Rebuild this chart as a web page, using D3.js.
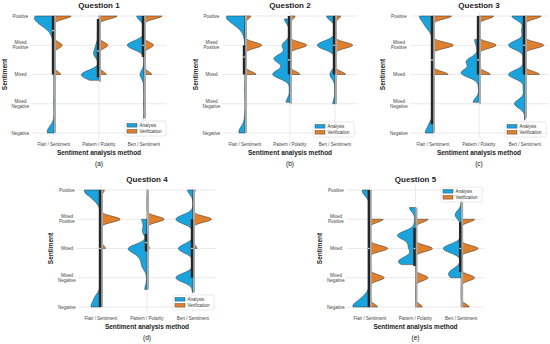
<!DOCTYPE html>
<html>
<head>
<meta charset="utf-8">
<script src="https://cdn.jsdelivr.net/npm/d3@7"></script>
<style>
  body { margin: 0; background: #fff; }
  text { font-family: "Liberation Sans", Arial, sans-serif; }
</style>
</head>
<body>
<script>
// Width and height
var w = 550;
var h = 344;

var questions = ["Question 1", "Question 2", "Question 3", "Question 4", "Question 5"];
var tags = ["(a)", "(b)", "(c)", "(d)", "(e)"];
var methods = ["Flair / Sentiment", "Pattern / Polarity", "Bert / Sentiment"];
var levels = [["Negative"], ["Mixed", "Negative"], ["Mixed"], ["Mixed", "Positive"], ["Positive"]];
var groups = ["Analysis", "Verification"];

// density peaks: [sentiment value, peak half-width (10 = half a band)]
var analysisQ1 = [
  [[4, 7.2], [3.75, 5], [3.5, 1.5], [3.25, 0.5], [3, 0.15], [2, 0.1], [1, 0.1], [0.2, 1.2], [0, 2.5]],
  [[3.85, 0.6], [3.4, 0.7], [3, 1.2], [2.7, 2.3], [2, 7.5], [1.8, 1.2]],
  [[4, 3.3], [3, 7.6], [2, 1.8], [1.5, 0.2], [1, 0.2], [0.5, 0.15]]
];
var verificationQ1 = [
  [[4, 7.7], [3, 3.7], [2, 3.0]],
  [[4, 8.2], [3, 4], [2, 3.3]],
  [[4, 8.1], [3, 4.3], [2, 3.5]]
];
var analysisQ2 = [
  [[4, 7.2], [3.75, 4], [3.5, 1], [3.25, 0.3], [2.5, 0.1], [1.5, 0.1], [0.5, 0.2], [0.2, 1], [0, 2.3]],
  [[3.9, 2.5], [3.6, 0.3], [3, 3.5], [2.55, 7], [2.27, 1.5], [2, 7.5], [1.5, 0.3], [1.05, 1.8]],
  [[4, 3.8], [3, 8], [2, 2.3], [1.5, 0.2], [1, 1]]
];
var verificationQ2 = [
  [[4, 2.6], [3, 7.6], [2, 5]],
  [[4, 2.3], [3, 7.6], [2, 4.5]],
  [[4, 2.6], [3, 8], [2, 4.8]]
];
var analysisQ3 = [
  [[4, 5.5], [3.7, 3], [3.45, 0.8], [3, 0.05], [2, 0.05], [1, 0.1], [0.3, 1.5], [0, 3.2]],
  [[3.2, 1.8], [2.9, 0.8], [2.45, 5.5], [2.05, 7.8], [1.6, 0.3], [1.05, 2.6]],
  [[4, 5.8], [3.5, 1.5], [3, 7.3], [2.5, 1], [2, 7.3], [1.5, 0.8], [1, 4.7], [0.45, 0.2]]
];
var verificationQ3 = [
  [[4, 8.2], [3, 9], [2, 6.7]],
  [[4, 6.5], [3, 7.6], [2, 5]],
  [[4, 7.1], [3, 8.3], [2, 6.4]]
];
var analysisQ4 = [
  [[4, 6.5], [3.75, 3], [3.5, 0.8], [3, 0.05], [2, 0.05], [1, 0.1], [0.6, 0.5], [0.3, 2.5], [0, 4]],
  [[3, 2.3], [2.6, 2], [2, 8], [1.7, 2.5], [1.4, 2], [1, 0.2], [0.6, 1]],
  [[4, 2.4], [3, 7.6], [2, 6.5], [1, 7.6], [0.5, 0.3]]
];
var verificationQ4 = [
  [[4, 1.5], [3, 8.5], [2, 2]],
  [[4, 0.5], [3, 7.6], [2, 1.1]],
  [[4, 1], [3, 8.2], [2, 1.8]]
];
var analysisQ5 = [
  [[4, 2.9], [3.8, 1], [3, 0.05], [2, 0.05], [1, 0.1], [0.5, 0.8], [0.25, 3], [0, 6.7]],
  [[3.4, 2.7], [2.9, 0.5], [2.45, 8], [2.05, 3], [1.6, 5.5], [1.45, 3]],
  [[3.8, 0.3], [3.15, 2.7], [2.6, 0.3], [2, 8], [1.5, 0.3], [1.2, 4], [1, 3]]
];
var verificationQ5 = [
  [[3, 6], [2, 8], [1, 6.4], [0, 3.4]],
  [[3, 5.6], [2, 7.6], [1, 5.6], [0, 3]],
  [[3, 6], [2, 7.6], [1, 6], [0, 3.6]]
];

// inner box: [whisker low, q1, median, q3, whisker high]
var boxQ1 = [[0, 2, 3.5, 4, 4], [1.75, 1.9, 2.8, 3.9, 4], [0.5, 2.6, 3, 4, 4]];
var boxQ2 = [[0, 2, 2.6, 3, 4], [1, 2, 2.5, 4, 4], [1, 2, 3, 4, 4]];
var boxQ3 = [[0, 0.3, 2.5, 4, 4], [1, 2, 2.5, 4, 4], [0.5, 2, 3, 4, 4]];
var boxQ4 = [[0, 0, 2, 4, 4], [0.6, 1.9, 2.2, 2.5, 4], [0.5, 1, 2, 3, 4]];
var boxQ5 = [[0, 0, 2, 4, 4], [0, 1.4, 2, 2.7, 3.4], [0, 1.2, 2, 2.9, 3.8]];

var analysis = [analysisQ1, analysisQ2, analysisQ3, analysisQ4, analysisQ5];
var verification = [verificationQ1, verificationQ2, verificationQ3, verificationQ4, verificationQ5];
var boxes = [boxQ1, boxQ2, boxQ3, boxQ4, boxQ5];

var colors = ["#1aa3dc", "#e07f2c"];
var bandwidths = [0.15, 0.1];

// panel frames
var panels = [
  { left: 31.5, right: 166.5, top: 16, bottom: 133, lx: 125, ly: 121 },
  { left: 222.5, right: 357.5, top: 16, bottom: 133, lx: 313, ly: 122 },
  { left: 410, right: 548, top: 16, bottom: 133, lx: 505, ly: 122 },
  { left: 78, right: 216, top: 190, bottom: 307, lx: 173, ly: 295 },
  { left: 347, right: 484, top: 190, bottom: 307, lx: 441, ly: 187 }
];

//Create SVG element
var svg = d3.select("body")
    .append("svg")
    .attr("width", w)
    .attr("height", h);

svg.append("rect").attr("width", w).attr("height", h).attr("fill", "white");

function density(points, bw) {
  var lo = d3.min(points, d => d[0]);
  var hi = d3.max(points, d => d[0]);
  var steps = 120;
  return d3.range(steps + 1).map(function(i) {
    var v = lo + (hi - lo) * i / steps;
    var dens = d3.sum(points, function(p) {
      var z = (v - p[0]) / bw;
      return p[1] * Math.exp(-0.5 * z * z);
    });
    return [v, dens];
  });
}

panels.forEach(function(p, qi) {
  var g = svg.append("g");

  var xScale = d3.scaleBand()
      .domain(methods)
      .range([p.left, p.right]);

  var yScale = d3.scaleLinear()
      .domain([0, 4])
      .range([p.bottom, p.top]);

  var wScale = d3.scaleLinear()
      .domain([0, 10])
      .range([0, xScale.bandwidth() * 0.49]);

  var cx = function(m) { return xScale(m) + xScale.bandwidth() / 2; };

  // grid
  g.selectAll(".hgrid")
      .data(d3.range(5))
      .enter()
      .append("line")
      .attr("x1", p.left)
      .attr("x2", p.right)
      .attr("y1", d => yScale(d))
      .attr("y2", d => yScale(d))
      .attr("stroke", "#e3e3e3")
      .attr("stroke-width", 0.8);

  g.selectAll(".vgrid")
      .data(methods)
      .enter()
      .append("line")
      .attr("x1", d => cx(d))
      .attr("x2", d => cx(d))
      .attr("y1", yScale(4.15))
      .attr("y2", yScale(-0.15))
      .attr("stroke", "#e3e3e3")
      .attr("stroke-width", 0.8);

  // violins
  [analysis[qi], verification[qi]].forEach(function(series, si) {
    var side = si === 0 ? -1 : 1;
    series.forEach(function(points, mi) {
      var c = cx(methods[mi]);
      var area = d3.area()
          .y(d => yScale(d[0]))
          .x0(c)
          .x1(d => c + side * wScale(d[1]));
      g.append("path")
          .datum(density(points, bandwidths[si]))
          .attr("d", area)
          .attr("fill", colors[si])
          .attr("stroke", "#333")
          .attr("stroke-width", 0.5)
          .attr("stroke-linejoin", "round");
    });
  });

  // inner boxes: grey whisker band right of centre, dark box left of it
  boxes[qi].forEach(function(b, mi) {
    var c = cx(methods[mi]);
    g.append("rect")
        .attr("x", c)
        .attr("width", 2)
        .attr("y", yScale(b[4]))
        .attr("height", yScale(b[0]) - yScale(b[4]))
        .attr("fill", "#a9a9a9");
    g.append("rect")
        .attr("x", c - 2.2)
        .attr("width", 2.4)
        .attr("y", yScale(b[3]))
        .attr("height", Math.max(0.5, yScale(b[1]) - yScale(b[3])))
        .attr("fill", "#262626");
    g.append("circle")
        .attr("cx", c - 1)
        .attr("cy", yScale(b[2]))
        .attr("r", 0.8)
        .attr("fill", "white");
  });

  // y tick labels
  var yl = g.selectAll(".ylab")
      .data(levels)
      .enter()
      .append("text")
      .attr("text-anchor", "middle")
      .attr("font-size", "4.5px")
      .attr("fill", "#444");
  yl.each(function(lines, i) {
    var t = d3.select(this);
    var y0 = yScale(i) + 1.6 - (lines.length - 1) * 2.6;
    lines.forEach(function(s, k) {
      t.append("tspan")
          .attr("x", p.left - 11)
          .attr("y", y0 + k * 5.2)
          .text(s);
    });
  });

  // x tick labels
  g.selectAll(".xlab")
      .data(methods)
      .enter()
      .append("text")
      .attr("x", d => cx(d))
      .attr("y", p.bottom + 12.5)
      .attr("text-anchor", "middle")
      .attr("font-size", "4.5px")
      .attr("fill", "#444")
      .text(d => d);

  var mid = (p.left + p.right) / 2;

  g.append("text")
      .attr("x", mid)
      .attr("y", p.top - 8)
      .attr("text-anchor", "middle")
      .attr("font-size", "8px")
      .attr("font-weight", "bold")
      .attr("fill", "#222")
      .text(questions[qi]);

  g.append("text")
      .attr("x", mid)
      .attr("y", p.bottom + 21.5)
      .attr("text-anchor", "middle")
      .attr("font-size", "6.5px")
      .attr("font-weight", "bold")
      .attr("fill", "#222")
      .text("Sentiment analysis method");

  g.append("text")
      .attr("x", mid)
      .attr("y", p.bottom + 32.5)
      .attr("text-anchor", "middle")
      .attr("font-size", "6.5px")
      .attr("fill", "#111")
      .text(tags[qi]);

  g.append("text")
      .attr("transform", "translate(" + (p.left - 25) + "," + yScale(2) + ") rotate(-90)")
      .attr("text-anchor", "middle")
      .attr("font-size", "6.5px")
      .attr("font-weight", "bold")
      .attr("fill", "#222")
      .text("Sentiment");

  // legend
  var lg = g.append("g").attr("transform", "translate(" + p.lx + "," + p.ly + ")");
  lg.append("rect")
      .attr("width", 41)
      .attr("height", 15)
      .attr("rx", 1)
      .attr("fill", "white")
      .attr("fill-opacity", 0.85)
      .attr("stroke", "#d0d0d0")
      .attr("stroke-width", 0.5);
  groups.forEach(function(name, i) {
    lg.append("rect")
        .attr("x", 2)
        .attr("y", 2.5 + i * 6)
        .attr("width", 10)
        .attr("height", 3.6)
        .attr("fill", colors[i])
        .attr("stroke", "#333")
        .attr("stroke-width", 0.4);
    lg.append("text")
        .attr("x", 14.5)
        .attr("y", 5.8 + i * 6)
        .attr("font-size", "4.5px")
        .attr("fill", "#333")
        .text(name);
  });
});
</script>
</body>
</html>
